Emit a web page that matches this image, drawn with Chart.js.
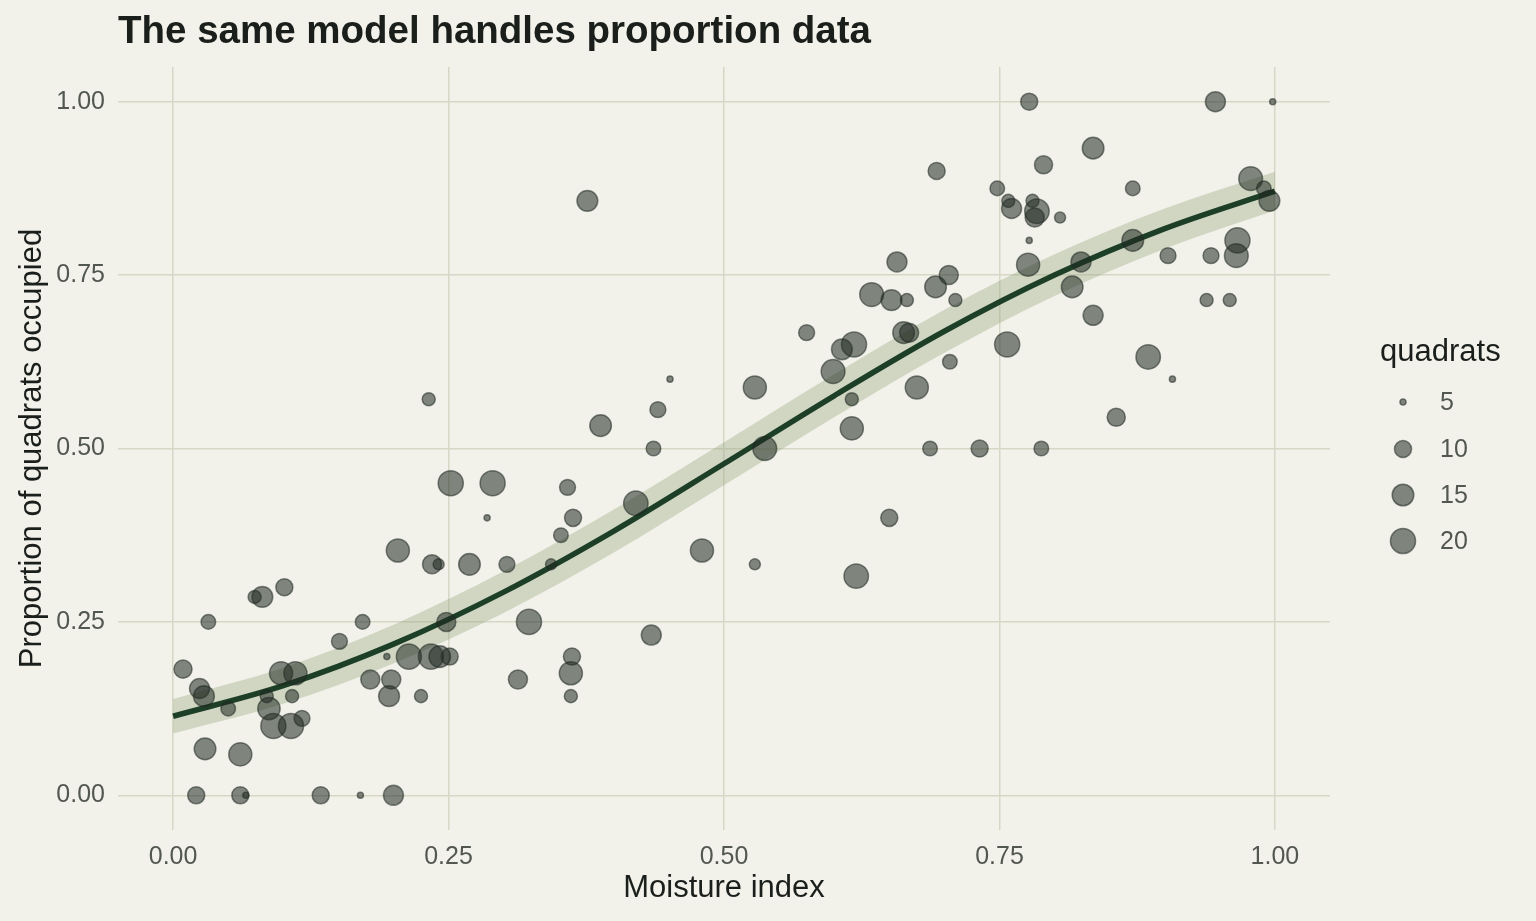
<!DOCTYPE html>
<html>
<head>
<meta charset="utf-8">
<script src="https://cdn.jsdelivr.net/npm/chart.js@4.4.1/dist/chart.umd.min.js"></script>
<style>
  body { margin: 0; background: #f2f2eb; }
  #chart { display: block; background: #f2f2eb; }
</style>
</head>
<body>
<canvas id="chart" width="1536" height="921"></canvas>
<script>
// DATA
const moisture = [
  0.021, 0.061, 0.066, 0.134, 0.170, 0.200, 0.009, 0.024, 0.028, 0.050,
  0.029, 0.061, 0.032, 0.074, 0.081, 0.101, 0.098, 0.111, 0.085, 0.108,
  0.087, 0.091, 0.107, 0.117, 0.151, 0.172, 0.194, 0.214, 0.234, 0.242,
  0.251, 0.179, 0.198, 0.196, 0.225, 0.204, 0.232, 0.235, 0.241, 0.269,
  0.303, 0.343, 0.252, 0.290, 0.285, 0.358, 0.363, 0.352, 0.420, 0.388,
  0.436, 0.440, 0.451, 0.480, 0.248, 0.323, 0.434, 0.362, 0.361, 0.313,
  0.361, 0.376, 0.537, 0.528, 0.575, 0.599, 0.607, 0.618, 0.616, 0.616,
  0.675, 0.705, 0.757, 0.663, 0.668, 0.687, 0.732, 0.650, 0.528, 0.620,
  0.777, 0.835, 0.790, 0.693, 0.748, 0.758, 0.761, 0.780, 0.784, 0.782,
  0.805, 0.871, 0.777, 0.776, 0.824, 0.816, 0.871, 0.835, 0.885, 0.704,
  0.692, 0.710, 0.666, 0.634, 0.657, 0.652, 0.946, 0.998, 0.978, 0.990,
  0.995, 0.903, 0.942, 0.966, 0.965, 0.938, 0.959, 0.907, 0.788, 0.856
];
const proportion = [
  0.000, 0.000, 0.000, 0.000, 0.000, 0.000, 0.182, 0.154, 0.143, 0.125,
  0.067, 0.059, 0.250, 0.286, 0.286, 0.300, 0.176, 0.176, 0.143, 0.143,
  0.125, 0.100, 0.100, 0.111, 0.222, 0.250, 0.200, 0.200, 0.200, 0.200,
  0.200, 0.167, 0.167, 0.143, 0.143, 0.353, 0.571, 0.333, 0.333, 0.333,
  0.333, 0.333, 0.450, 0.450, 0.400, 0.444, 0.400, 0.375, 0.421, 0.533,
  0.500, 0.556, 0.600, 0.353, 0.250, 0.250, 0.231, 0.200, 0.176, 0.167,
  0.143, 0.857, 0.500, 0.588, 0.667, 0.611, 0.643, 0.650, 0.571, 0.529,
  0.588, 0.625, 0.650, 0.667, 0.667, 0.500, 0.500, 0.400, 0.333, 0.316,
  1.000, 0.933, 0.909, 0.900, 0.875, 0.857, 0.846, 0.857, 0.842, 0.833,
  0.833, 0.875, 0.800, 0.765, 0.769, 0.733, 0.800, 0.692, 0.632, 0.750,
  0.733, 0.714, 0.714, 0.722, 0.769, 0.714, 1.000, 1.000, 0.889, 0.875,
  0.857, 0.778, 0.778, 0.800, 0.778, 0.714, 0.714, 0.600, 0.500, 0.545
];
const quadrats = [
  10, 10, 5, 10, 5, 13, 11, 13, 14, 8,
  15, 17, 8, 7, 14, 10, 17, 17, 7, 7,
  16, 20, 20, 9, 9, 8, 5, 20, 20, 15,
  10, 12, 12, 14, 7, 17, 7, 12, 6, 15,
  9, 6, 20, 20, 5, 9, 10, 8, 19, 15,
  8, 9, 5, 17, 12, 20, 13, 10, 17, 12,
  7, 14, 18, 17, 9, 18, 14, 20, 7, 17,
  17, 8, 20, 15, 12, 8, 10, 10, 6, 19,
  10, 15, 11, 10, 8, 7, 13, 7, 19, 12,
  6, 8, 5, 17, 13, 15, 15, 13, 19, 12,
  15, 7, 7, 18, 13, 14, 13, 5, 18, 8,
  14, 9, 9, 20, 18, 7, 7, 5, 8, 11
];

// fitted curve and its band
const curveX     = [0.0, 0.1, 0.2, 0.3, 0.4, 0.5, 0.6, 0.7, 0.8, 0.9, 1.0];
const curveFit   = [0.114, 0.158, 0.218, 0.293, 0.381, 0.478, 0.576, 0.669, 0.750, 0.817, 0.871];
const curveLower = [0.089, 0.132, 0.190, 0.263, 0.350, 0.447, 0.545, 0.638, 0.720, 0.788, 0.843];
const curveUpper = [0.139, 0.184, 0.246, 0.323, 0.412, 0.509, 0.607, 0.700, 0.780, 0.846, 0.899];

const xTicks = [0, 0.25, 0.5, 0.75, 1];
const yTicks = [0, 0.25, 0.5, 0.75, 1];
const legendSizes = [5, 10, 15, 20];

// STYLE
const gridColor = "#d6d7c5";
const pointColor = "rgba(32, 42, 34, 0.55)";
const lineColor = "#1d3f27";
const bandColor = "rgba(150, 165, 125, 0.37)";
const tickColor = "#52574f";
const titleColor = "#1b1f1b";
const FONT = "'Liberation Sans', Arial, Helvetica, sans-serif";

// size scale: radius grows with the square root of quadrats
function radiusFor(n) {
  const t = Math.max(0, (n - 5) / 17);
  return 3.8 + 10.1 * Math.sqrt(t) - 0.75;
}

const toXY = (xs, ys) => xs.map((x, i) => ({ x: x, y: ys[i] }));

// title + size legend
const decorPlugin = {
  id: "decor",
  afterDraw(chart) {
    const ctx = chart.ctx;
    ctx.save();
    ctx.fillStyle = titleColor;
    ctx.font = "bold 38.5px " + FONT;
    ctx.textBaseline = "alphabetic";
    ctx.textAlign = "left";
    ctx.fillText("The same model handles proportion data", 118, 43);

    ctx.font = "31px " + FONT;
    ctx.fillText("quadrats", 1380, 361);

    const rows = [402, 449, 495, 541];
    legendSizes.forEach((n, i) => {
      const r = radiusFor(n);
      ctx.beginPath();
      ctx.arc(1403, rows[i], r, 0, Math.PI * 2);
      ctx.fillStyle = pointColor;
      ctx.fill();
      ctx.lineWidth = 1.5;
      ctx.strokeStyle = pointColor;
      ctx.stroke();
      ctx.fillStyle = tickColor;
      ctx.font = "25px " + FONT;
      ctx.textBaseline = "middle";
      ctx.fillText(String(n), 1440, rows[i] + 1);
    });
    ctx.restore();
  }
};

const ctx = document.getElementById("chart");

new Chart(ctx, {
  type: "scatter",
  data: {
    datasets: [
      {
        data: toXY(moisture, proportion),
        backgroundColor: pointColor,
        borderColor: pointColor,
        borderWidth: 1.5,
        pointRadius: quadrats.map(radiusFor),
        order: 0
      },
      {
        data: toXY(curveX, curveFit),
        showLine: true,
        borderColor: lineColor,
        borderWidth: 5.5,
        pointRadius: 0,
        cubicInterpolationMode: "monotone",
        order: 1
      },
      {
        data: toXY(curveX, curveUpper),
        showLine: true,
        borderWidth: 0,
        pointRadius: 0,
        cubicInterpolationMode: "monotone",
        backgroundColor: bandColor,
        fill: "+1",
        order: 2
      },
      {
        data: toXY(curveX, curveLower),
        showLine: true,
        borderWidth: 0,
        pointRadius: 0,
        cubicInterpolationMode: "monotone",
        order: 3
      }
    ]
  },
  options: {
    responsive: false,
    animation: false,
    events: [],
    layout: { padding: { left: 0, top: 67, right: 206, bottom: 0 } },
    plugins: {
      legend: { display: false },
      tooltip: { enabled: false }
    },
    scales: {
      x: {
        type: "linear",
        min: -0.05,
        max: 1.05,
        afterBuildTicks: (s) => { s.ticks = xTicks.map(v => ({ value: v })); },
        afterFit: (s) => { s.height = 91; },
        border: { display: false },
        grid: { color: gridColor, lineWidth: 1.5, drawTicks: false },
        ticks: {
          color: tickColor,
          font: { family: FONT, size: 25 },
          padding: 12,
          callback: (v) => v.toFixed(2)
        },
        title: {
          display: true,
          text: "Moisture index",
          color: titleColor,
          font: { family: FONT, size: 31 },
          padding: { top: 0, bottom: 14 }
        }
      },
      y: {
        type: "linear",
        min: -0.05,
        max: 1.05,
        afterBuildTicks: (s) => { s.ticks = yTicks.map(v => ({ value: v })); },
        afterFit: (s) => { s.width = 118; },
        border: { display: false },
        grid: { color: gridColor, lineWidth: 1.5, drawTicks: false },
        ticks: {
          color: tickColor,
          font: { family: FONT, size: 25 },
          padding: 13,
          callback: (v) => v.toFixed(2)
        },
        title: {
          display: true,
          text: "Proportion of quadrats occupied",
          color: titleColor,
          font: { family: FONT, size: 31 },
          padding: { top: 14, bottom: 0 }
        }
      }
    }
  },
  plugins: [decorPlugin]
});
</script>
</body>
</html>
